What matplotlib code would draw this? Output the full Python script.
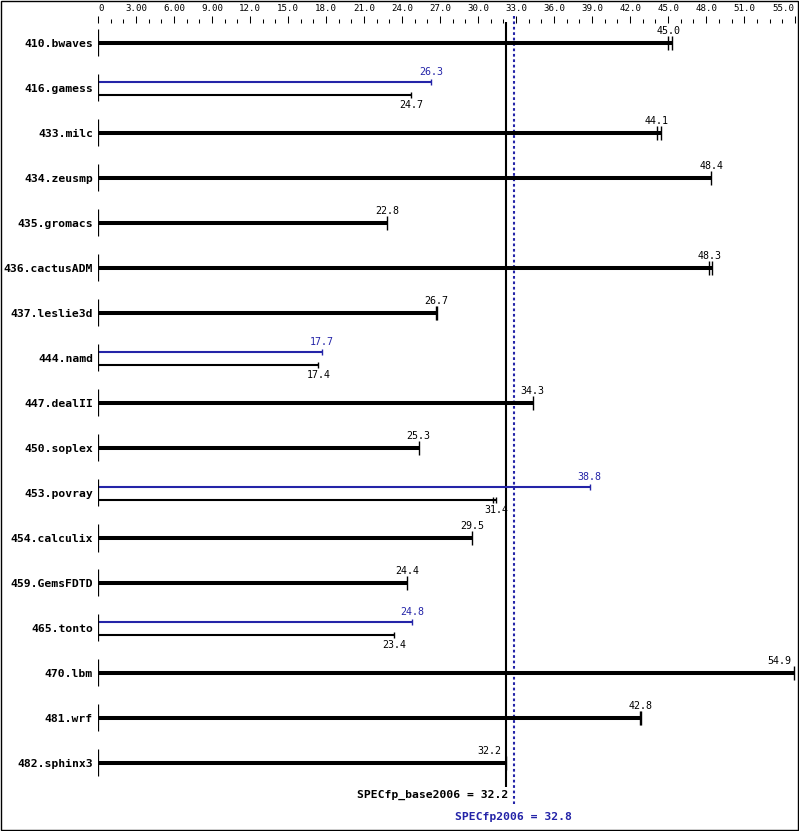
import numpy as np
import matplotlib
matplotlib.use("Agg")
import matplotlib.pyplot as plt
from matplotlib.patches import Rectangle

benchmarks = ["410.bwaves", "416.gamess", "433.milc", "434.zeusmp", "435.gromacs",
              "436.cactusADM", "437.leslie3d", "444.namd", "447.dealII", "450.soplex",
              "453.povray", "454.calculix", "459.GemsFDTD", "465.tonto", "470.lbm",
              "481.wrf", "482.sphinx3"]
base_scores = [45.0, 24.7, 44.1, 48.4, 22.8, 48.3, 26.7, 17.4, 34.3, 25.3,
               31.4, 29.5, 24.4, 23.4, 54.9, 42.8, 32.2]
# peak shown separately only where it differs from base
peak_scores = [np.nan, 26.3, np.nan, np.nan, np.nan, np.nan, np.nan, 17.7, np.nan, np.nan,
               38.8, np.nan, np.nan, 24.8, np.nan, np.nan, np.nan]
base_runs = [[45.0, 45.3], [24.7], [44.1, 44.45], [48.4], [22.8], [48.25, 48.5],
             [26.65, 26.75], [17.4], [34.3], [25.3], [31.2, 31.4], [29.5], [24.4],
             [23.4], [54.9], [42.75, 42.85], [32.2]]
peak_runs = [[], [26.3], [], [], [], [], [], [17.7], [], [], [38.8], [], [], [24.8], [], [], []]
base_mean = 32.2
peak_mean = 32.8
tick_values = [0, 3, 6, 9, 12, 15, 18, 21, 24, 27, 30, 33, 36, 39, 42, 45, 48, 51, 55]
tick_labels = ["0", "3.00", "6.00", "9.00", "12.0", "15.0", "18.0", "21.0", "24.0",
               "27.0", "30.0", "33.0", "36.0", "39.0", "42.0", "45.0", "48.0", "51.0", "55.0"]

BLUE = "#2424a8"
MONO = "DejaVu Sans Mono"

W, H = 799, 831
fig = plt.figure(figsize=(W / 100, H / 100), dpi=100)
fig.patch.set_facecolor("white")
ax = fig.add_axes([98 / W, 0, 700 / W, (H - 23) / H])
ax.set_xlim(0, 700 / 12.67)
ax.set_ylim((H - 43) / 45, -20 / 45)
for s in ax.spines.values():
    s.set_visible(False)

# top axis
ax.xaxis.tick_top()
ax.set_xticks(tick_values)
ax.set_xticklabels(tick_labels, fontfamily=MONO, fontsize=6.6)
minor = [v for v in range(1, 55) if v not in tick_values]
ax.set_xticks(minor, minor=True)
ax.tick_params(axis="x", which="major", length=5, width=0.75, pad=2.5, colors="black")
ax.tick_params(axis="x", which="minor", length=3, width=0.75, colors="black")
labs = ax.get_xticklabels()
labs[0].set_horizontalalignment("left")
labs[-1].set_horizontalalignment("right")

# y axis labels
n = len(benchmarks)
ax.set_yticks(range(n))
ax.set_yticklabels(benchmarks, fontfamily=MONO, fontweight="bold", fontsize=8.2)
ax.tick_params(axis="y", length=0, pad=3.6)

# reference lines
ax.vlines(base_mean, -0.467, 16.53, color="black", lw=1.5, zorder=1, clip_on=False)
ax.vlines(peak_mean, -0.6, 16.91, color=BLUE, lw=1.5, linestyles=(0, (1.3, 1.3)),
          zorder=1, clip_on=False)

for i in range(n):
    ax.vlines(0, i - 0.3, i + 0.3, color="black", lw=0.9, zorder=3)
    b = base_scores[i]
    p = peak_scores[i]
    if np.isnan(p):
        end = max([b] + base_runs[i])
        ax.hlines(i, 0, end, color="black", lw=2.9, zorder=2)
        for r in base_runs[i]:
            ax.vlines(r, i - 0.155, i + 0.155, color="black", lw=1.0, zorder=3)
        if b > 53:
            ha, tx = "right", b - 0.2
        elif abs(b - base_mean) < 0.3:
            ha, tx = "right", b - 0.35
        else:
            ha, tx = "center", b
        ax.text(tx, i - 0.26, f"{b:.1f}", ha=ha, va="center",
                fontfamily=MONO, fontsize=7.2, color="black")
    else:
        yb, yk = i - 0.133, i + 0.15
        ax.hlines(yb, 0, p, color=BLUE, lw=1.5, zorder=2)
        for r in peak_runs[i]:
            ax.vlines(r, yb - 0.075, yb + 0.075, color=BLUE, lw=1.0, zorder=3)
        ax.hlines(yk, 0, b, color="black", lw=1.5, zorder=2)
        for r in base_runs[i]:
            ax.vlines(r, yk - 0.07, yk + 0.07, color="black", lw=1.0, zorder=3)
        ax.text(p, i - 0.36, f"{p:.1f}", ha="center", va="center",
                fontfamily=MONO, fontsize=7.2, color=BLUE)
        ax.text(b, i + 0.38, f"{b:.1f}", ha="center", va="center",
                fontfamily=MONO, fontsize=7.2, color="black")

ax.text(base_mean + 0.15, 16.71, f"SPECfp_base2006 = {base_mean:.1f}", ha="right", va="center",
        fontfamily=MONO, fontweight="bold", fontsize=8.2, color="black")
ax.text(peak_mean, 17.2, f"SPECfp2006 = {peak_mean:.1f}", ha="center", va="center",
        fontfamily=MONO, fontweight="bold", fontsize=8.2, color=BLUE)

fig.patches.append(Rectangle((0.6 / W, 0.6 / H), 1 - 1.8 / W, 1 - 1.8 / H,
                             transform=fig.transFigure, fill=False, edgecolor="black",
                             lw=1.0, zorder=10))

fig.savefig("out.png", dpi=100, facecolor="white")
